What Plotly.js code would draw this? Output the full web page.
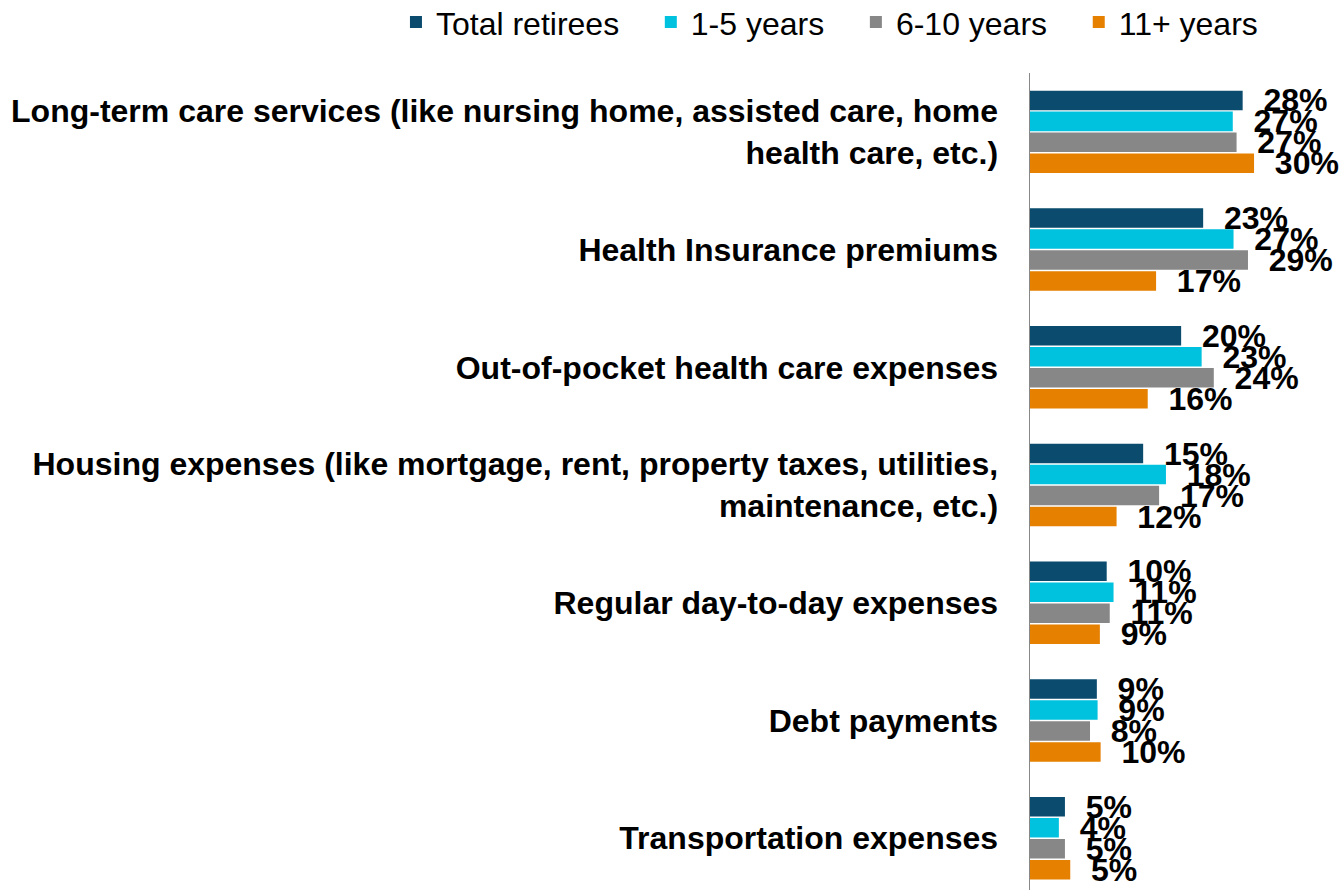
<!DOCTYPE html>
<html>
<head>
<meta charset="utf-8">
<script src="https://cdn.plot.ly/plotly-3.0.1.min.js"></script>
<style>html,body{margin:0;padding:0;background:#fff;}#chart{width:1340px;height:890px;}</style>
</head>
<body>
<div id="chart"></div>
<script>
const categories = [
  "Long-term care services (like nursing home, assisted care, home<br>health care, etc.)",
  "Health Insurance premiums",
  "Out-of-pocket health care expenses",
  "Housing expenses (like mortgage, rent, property taxes, utilities,<br>maintenance, etc.)",
  "Regular day-to-day expenses",
  "Debt payments",
  "Transportation expenses"
];
const seriesNames = ["Total retirees", "1-5 years", "6-10 years", "11+ years"];
const totalRetirees = [28.0, 22.8, 19.9, 14.9, 10.1, 8.8, 4.6];
const years1to5     = [26.7, 26.8, 22.6, 17.9, 11.0, 8.9, 3.8];
const years6to10    = [27.2, 28.7, 24.2, 17.0, 10.5, 7.9, 4.6];
const years11plus   = [29.5, 16.6, 15.5, 11.4,  9.2, 9.3, 5.3];
const labelsTotal   = ["28%", "23%", "20%", "15%", "10%", "9%", "5%"];
const labels1to5    = ["27%", "27%", "23%", "18%", "11%", "9%", "4%"];
const labels6to10   = ["27%", "29%", "24%", "17%", "11%", "8%", "5%"];
const labels11plus  = ["30%", "17%", "16%", "12%", "9%", "10%", "5%"];

const colors = ["#0A4B6E", "#00C1DE", "#878787", "#E58000"];
const values = [totalRetirees, years1to5, years6to10, years11plus];
const labels = [labelsTotal, labels1to5, labels6to10, labels11plus];
const FONT = "Liberation Sans, Arial, sans-serif";
const legendPad = "\u00a0\u00a0\u00a0";

const traces = values.map((v, i) => ({
  type: "bar",
  orientation: "h",
  name: seriesNames[i] + (i < values.length - 1 ? legendPad : ""),
  y: categories,
  x: v,
  text: labels[i],
  texttemplate: "\u00a0\u00a0%{text}",
  textposition: "outside",
  constraintext: "none",
  cliponaxis: false,
  textfont: {family: FONT, size: 32, color: "#000", weight: "bold"},
  marker: {color: colors[i]},
  hoverinfo: "skip"
}));

const layout = {
  width: 1340, height: 890,
  margin: {l: 0, r: 10, t: 73, b: 0, autoexpand: false},
  paper_bgcolor: "#fff", plot_bgcolor: "#fff",
  barmode: "group",
  bargap: 0.287,
  bargroupgap: 0.07,
  showlegend: true,
  legend: {
    orientation: "h", xref: "container", x: 0.619, xanchor: "center",
    yref: "container", y: 0.975, yanchor: "middle",
    font: {family: FONT, size: 32, color: "#000"},
    traceorder: "normal"
  },
  xaxis: {
    domain: [1030 / 1330, 1],
    range: [0, 39.5], showgrid: false, zeroline: false,
    showticklabels: false, ticks: "", showline: false
  },
  yaxis: {
    type: "category",
    range: [6.44, -0.5],
    automargin: false,
    showgrid: false, zeroline: false,
    showline: true, linecolor: "#888", linewidth: 1.5,
    ticks: "", ticklabelstandoff: 24,
    tickfont: {family: FONT, size: 32, color: "#000", weight: "bold"}
  },
  font: {family: FONT}
};

Plotly.newPlot("chart", traces, layout, {displayModeBar: false, staticPlot: true});
</script>
</body>
</html>
